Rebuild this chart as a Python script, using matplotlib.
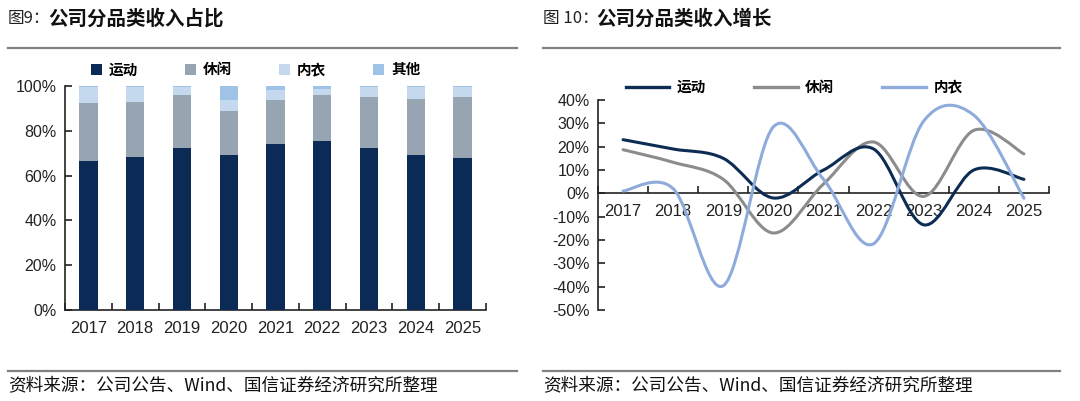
import matplotlib
matplotlib.use('Agg')
import matplotlib.pyplot as plt
from matplotlib.path import Path
from matplotlib.patches import PathPatch
from matplotlib.lines import Line2D
from matplotlib.ticker import FuncFormatter, FixedLocator

plt.rcParams['font.family'] = ['Liberation Sans', 'Noto Sans CJK SC', 'DejaVu Sans']

years = ['2017', '2018', '2019', '2020', '2021', '2022', '2023', '2024', '2025']

# share of revenue, % (stacked)
share_sport = [66.7, 68.2, 72.2, 69.4, 73.9, 75.3, 72.3, 69.2, 67.7]
share_casual = [25.5, 24.7, 23.7, 19.4, 19.9, 20.6, 22.7, 25.2, 27.3]
share_under = [7.4, 6.7, 3.7, 4.8, 4.3, 2.9, 4.5, 5.1, 4.5]
share_other = [0.4, 0.4, 0.4, 6.4, 1.9, 1.2, 0.5, 0.5, 0.5]

# revenue growth, %
growth_sport = [23, 19, 15, -2, 10, 19, -13.5, 10, 6]
growth_casual = [18.7, 13.3, 6, -17, 4, 22, -1.3, 27, 16.9]
growth_under = [1, 2, -39.6, 28.5, 6, -21.6, 31, 33.5, -2.1]

C_NAVY = '#0b2a55'
C_GRAY = '#97a4b1'
C_LIGHT = '#c4d8ee'
C_OTHER = '#9ec3e6'
L_NAVY = '#0d2c54'
L_GRAY = '#8c8c8c'
L_BLUE = '#8eabdc'

CJK = ['Noto Sans CJK SC', 'DejaVu Sans']


def smooth_path(xs, ys, t=1/6):
    # excel-ish smoothed line as cubic bezier segments
    n = len(xs)
    verts = [(xs[0], ys[0])]
    codes = [Path.MOVETO]
    for i in range(n - 1):
        i0, i3 = max(i - 1, 0), min(i + 2, n - 1)
        c1 = (xs[i] + (xs[i + 1] - xs[i0]) * t, ys[i] + (ys[i + 1] - ys[i0]) * t)
        c2 = (xs[i + 1] - (xs[i3] - xs[i]) * t, ys[i + 1] - (ys[i3] - ys[i]) * t)
        verts += [c1, c2, (xs[i + 1], ys[i + 1])]
        codes += [Path.CURVE4] * 3
    return Path(verts, codes)


def style_axes(ax):
    for s in ['top', 'right']:
        ax.spines[s].set_visible(False)
    for s in ['left', 'bottom']:
        ax.spines[s].set_color('#222222')
        ax.spines[s].set_linewidth(1.2)
    n = len(years)
    ax.set_xlim(-0.5, n - 0.5)
    ax.set_xticks(range(n))
    ax.set_xticklabels(years)
    ax.xaxis.set_minor_locator(FixedLocator([i - 0.5 for i in range(n + 1)]))
    ax.tick_params(axis='x', which='major', length=0, labelsize=12, colors='#222222')
    ax.tick_params(axis='x', which='minor', direction='in', length=5, width=1.2, color='#222222')
    ax.tick_params(axis='y', direction='in', length=5, width=1.2, labelsize=11.5,
                   colors='#222222', pad=6)
    ax.yaxis.set_major_formatter(FuncFormatter(lambda v, p: '%d%%' % round(v)))


fig = plt.figure(figsize=(10.8, 4.01), dpi=100)

# ---- left: stacked share bars
ax1 = fig.add_axes([65 / 1080, 1 - 310 / 401, 421 / 1080, 224 / 401])
x = list(range(len(years)))
bottom = [0] * len(years)
for vals, col, lab in [(share_sport, C_NAVY, '运动'), (share_casual, C_GRAY, '休闲'),
                       (share_under, C_LIGHT, '内衣'), (share_other, C_OTHER, '其他')]:
    ax1.bar(x, vals, width=0.39, bottom=bottom, color=col, label=lab, zorder=3)
    bottom = [b + v for b, v in zip(bottom, vals)]
ax1.set_ylim(0, 100)
ax1.set_yticks(range(0, 101, 20))
style_axes(ax1)
ax1.tick_params(axis='x', which='major', pad=8)
ax1.legend(loc='lower left', bbox_to_anchor=(0.04, 1.0), ncol=4, frameon=False,
           handlelength=0.75, handleheight=0.75, handletextpad=0.5,
           columnspacing=3.2, borderaxespad=0.2,
           prop={'family': CJK, 'size': 10.5, 'weight': 'bold'})

# ---- right: growth lines
ax2 = fig.add_axes([598 / 1080, 1 - 310 / 401, 451 / 1080, 210 / 401])
for vals, col in [(growth_casual, L_GRAY), (growth_sport, L_NAVY), (growth_under, L_BLUE)]:
    ax2.add_patch(PathPatch(smooth_path(x, vals), fill=False, edgecolor=col, lw=2.2,
                            zorder=4, capstyle='round'))
ax2.set_ylim(-50, 40)
ax2.set_yticks(range(-50, 41, 10))
style_axes(ax2)
ax2.spines['bottom'].set_position(('data', 0))
ax2.tick_params(axis='x', which='major', pad=8)
handles = [Line2D([], [], color=L_NAVY, lw=2.4), Line2D([], [], color=L_GRAY, lw=2.4),
           Line2D([], [], color=L_BLUE, lw=2.4)]
ax2.legend(handles, ['运动', '休闲', '内衣'], loc='lower left', bbox_to_anchor=(0.045, 0.99),
           ncol=3, frameon=False, handlelength=3.0, handletextpad=0.5, columnspacing=3.3,
           borderaxespad=0.1, prop={'family': CJK, 'size': 10.5, 'weight': 'bold'})

# ---- titles, rules, footers
def header(x0, x1, num, title):
    t = fig.text(x0 / 1080, 1 - 19 / 401, num, family=CJK, fontsize=12, va='center',
                 color='#222222')
    fig.canvas.draw()
    bb = t.get_window_extent()
    fig.text(bb.x1 / 1080 - 0.002, 1 - 19 / 401, title, family=CJK, fontsize=14,
             fontweight='bold', va='center', color='#111111')
    for yy in (48, 371):
        fig.add_artist(Line2D([x0 / 1080, x1 / 1080], [1 - yy / 401] * 2,
                              color='#808080', lw=1.6))
    fig.text(x0 / 1080, 1 - 385 / 401, '资料来源：公司公告、Wind、国信证券经济研究所整理',
             family=CJK, fontsize=12.7, va='center', color='#111111')


header(8, 517, '图9：', '公司分品类收入占比')
header(543, 1060, '图 10：', '公司分品类收入增长')

fig.savefig('out.png', dpi=100)
